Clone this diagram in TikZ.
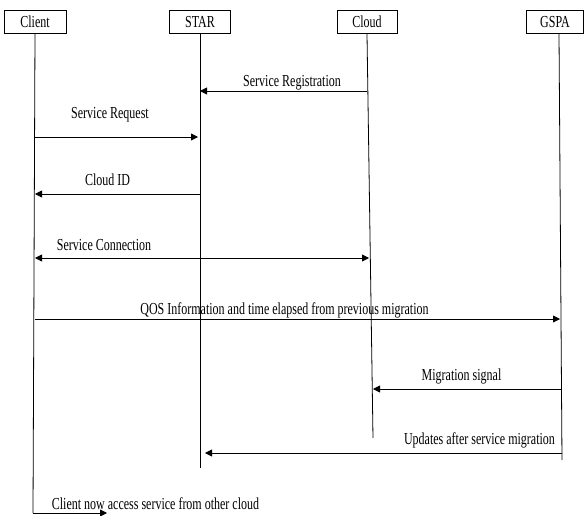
\documentclass[tikz,border=0pt]{standalone}
\usepackage{fontspec}
\setmainfont{Liberation Serif}
\usepackage{graphicx}
\usetikzlibrary{arrows.meta}
\newcommand{\tall}[1]{\scalebox{1}[1.4]{#1}}

\begin{document}
\begin{tikzpicture}[x=1pt,y=-1pt,line width=0.8pt,
    font=\fontsize{12}{14}\selectfont,
    actor/.style={draw,minimum width=60pt,minimum height=23.5pt,inner sep=0pt},
    msg/.style={-{Triangle[length=7pt,width=7pt]}},
    msgboth/.style={{Triangle[length=7pt,width=7pt]}-{Triangle[length=7pt,width=7pt]}},
    lbl/.style={inner sep=0pt}]
\useasboundingbox (0,0) rectangle (584,516);

% Participants
\node[actor,minimum width=62pt] (client) at (35,21.75) {\tall{Client}};
\node[actor,minimum width=61pt] (star) at (200,21.75) {\tall{STAR}};
\node[actor] (cloud) at (367,21.75) {\tall{Cloud}};
\node[actor,minimum width=57pt] (gspa) at (555,21.75) {\tall{GSPA}};

% Lifelines
\coordinate (clientEnd) at (33,513);
\coordinate (starEnd) at (200,468);
\coordinate (cloudEnd) at (373,438);
\coordinate (gspaEnd) at (562,460);
\draw (client.south) -- (clientEnd);
\draw (star.south) -- (starEnd);
\draw (cloud.south) -- (cloudEnd);
\draw ([xshift=4pt]gspa.south) -- (gspaEnd);

% Messages
\draw[msg] (cloud.south |- 0,91) -- (star.south |- 0,91);
\node[lbl] (regLbl) at (292,83) {\tall{Service Registration}};

\draw[msg,shorten >=2pt] (client.south |- 0,137) -- (star.south |- 0,137);
\node[lbl] (reqLbl) at (110,115) {\tall{Service Request}};

\draw[msg] (star.south |- 0,194) -- (client.south |- 0,194);
\node[lbl] (idLbl) at (107.5,179.5) {\tall{Cloud ID}};

\draw[msgboth,shorten >=4pt] (client.south |- 0,258) -- (cloudEnd |- 0,258);
\node[lbl] (connLbl) at (104,245) {\tall{Service Connection}};

\draw[msg,shorten >=2pt] (client.south |- 0,319) -- (gspaEnd |- 0,319);
\node[lbl] (qosLbl) at (284.5,310) {\tall{QOS Information and time elapsed from previous migration}};

\draw[msg] (gspaEnd |- 0,389) -- (cloudEnd |- 0,389);
\node[lbl] (migLbl) at (461.5,376) {\tall{Migration signal}};

\draw[msg,shorten >=5pt] (gspaEnd |- 0,453) -- (starEnd |- 0,453);
\node[lbl] (updLbl) at (479.5,440) {\tall{Updates after service migration}};

\coordinate (accessEnd) at (107,513);
\draw[msg] (clientEnd) -- (accessEnd);
\node[lbl] (accLbl) at (155.5,504) {\tall{Client now access service from other cloud}};
\end{tikzpicture}
\end{document}
